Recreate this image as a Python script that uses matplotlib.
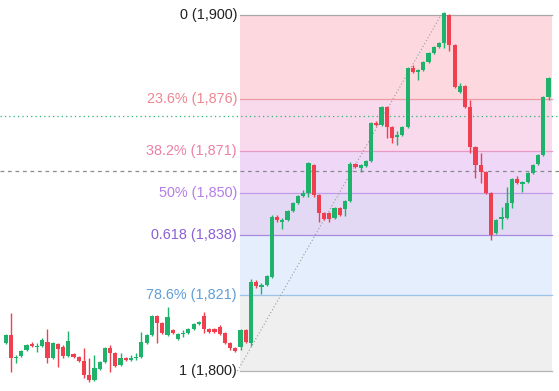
import matplotlib
matplotlib.use("Agg")
import matplotlib.pyplot as plt
import numpy as np

# ---------------- data ----------------
opens = [1807.9, 1810.1, 1803.6, 1804.2, 1805.9, 1807.6, 1806.7, 1807.0, 1808.1, 1803.6,
         1807.6, 1806.7, 1804.2, 1804.8, 1803.9, 1802.8, 1798.9, 1797.5, 1800.6, 1802.5,
         1806.5, 1805.1, 1801.7, 1803.6, 1803.1, 1803.6, 1803.9, 1807.9, 1810.1, 1815.4,
         1813.5, 1810.1, 1811.5, 1809.0, 1810.4, 1810.7, 1811.8, 1813.2, 1815.4, 1811.8,
         1811.8, 1812.4, 1810.7, 1807.9, 1806.5, 1806.7, 1811.5, 1807.9, 1825.0, 1823.6,
         1824.2, 1826.4, 1843.3, 1841.9, 1842.4, 1844.9, 1847.2, 1849.2, 1850.0, 1857.9,
         1849.4, 1844.4, 1844.4, 1843.0, 1845.8, 1845.5, 1847.8, 1858.1, 1857.0, 1857.6,
         1859.0, 1869.7, 1869.1, 1874.2, 1868.5, 1865.7, 1866.3, 1868.5, 1885.1, 1884.0,
         1884.5, 1886.8, 1889.3, 1891.0, 1892.1, 1900.0, 1891.6, 1878.4, 1880.1, 1874.2,
         1862.9, 1857.9, 1855.9, 1850.0, 1838.8, 1842.7, 1843.0, 1847.2, 1853.9, 1852.5,
         1853.1, 1855.6, 1858.1, 1860.7, 1877.0]
highs = [1810.4, 1816.3, 1804.5, 1805.9, 1807.6, 1808.1, 1807.9, 1809.3, 1811.8, 1808.1,
         1807.9, 1807.3, 1811.2, 1805.1, 1804.2, 1806.5, 1803.6, 1804.5, 1802.8, 1806.7,
         1807.3, 1805.3, 1805.1, 1803.9, 1804.5, 1805.1, 1811.0, 1810.4, 1815.7, 1815.7,
         1813.8, 1818.0, 1811.8, 1810.7, 1811.5, 1812.1, 1813.5, 1814.0, 1816.6, 1812.1,
         1812.1, 1812.9, 1811.0, 1808.1, 1806.7, 1811.8, 1811.8, 1825.8, 1825.6, 1824.7,
         1827.0, 1843.8, 1843.8, 1843.0, 1845.2, 1847.5, 1849.4, 1850.8, 1858.7, 1858.1,
         1849.7, 1844.7, 1844.7, 1846.1, 1846.1, 1848.0, 1858.7, 1858.4, 1858.1, 1859.3,
         1869.9, 1870.2, 1874.4, 1874.4, 1868.8, 1867.4, 1868.8, 1885.4, 1886.0, 1884.8,
         1887.1, 1889.6, 1891.3, 1892.4, 1900.8, 1900.3, 1891.9, 1880.9, 1880.3, 1876.1,
         1863.2, 1861.2, 1856.2, 1850.3, 1842.7, 1846.1, 1851.7, 1854.2, 1854.8, 1853.4,
         1855.9, 1858.1, 1861.0, 1877.2, 1882.6]
lows = [1807.6, 1799.7, 1802.2, 1803.9, 1805.6, 1806.7, 1805.3, 1806.7, 1802.2, 1803.4,
        1801.1, 1803.6, 1803.9, 1803.6, 1802.5, 1798.0, 1796.9, 1797.2, 1800.3, 1802.2,
        1799.7, 1801.1, 1801.4, 1802.8, 1802.8, 1803.1, 1803.6, 1807.6, 1809.8, 1807.9,
        1810.4, 1809.8, 1810.4, 1808.7, 1809.5, 1810.4, 1811.5, 1812.9, 1810.7, 1810.7,
        1810.7, 1810.1, 1807.6, 1805.9, 1805.3, 1805.9, 1807.9, 1807.0, 1823.3, 1821.6,
        1823.9, 1826.1, 1841.9, 1839.9, 1842.1, 1844.7, 1846.9, 1848.9, 1848.9, 1848.9,
        1841.9, 1842.4, 1841.9, 1842.7, 1843.5, 1843.5, 1847.5, 1857.0, 1855.9, 1857.3,
        1858.7, 1868.8, 1868.8, 1865.4, 1864.0, 1863.5, 1866.0, 1868.3, 1883.7, 1881.7,
        1884.3, 1886.5, 1889.0, 1890.7, 1890.7, 1889.9, 1879.5, 1878.1, 1873.9, 1861.2,
        1854.2, 1852.8, 1849.7, 1836.8, 1838.5, 1839.9, 1842.7, 1845.8, 1852.5, 1850.3,
        1852.8, 1855.3, 1857.9, 1860.4, 1876.1]
closes = [1810.1, 1803.6, 1803.9, 1805.6, 1807.3, 1807.0, 1807.0, 1808.7, 1803.6, 1807.9,
          1806.2, 1804.2, 1808.4, 1803.9, 1802.8, 1798.9, 1797.5, 1800.8, 1802.5, 1806.5,
          1805.1, 1801.4, 1803.6, 1803.1, 1803.6, 1803.9, 1808.1, 1810.1, 1815.4, 1813.5,
          1810.7, 1815.2, 1810.7, 1810.4, 1810.7, 1811.8, 1813.2, 1813.8, 1811.8, 1811.0,
          1811.0, 1810.4, 1807.9, 1806.5, 1805.6, 1811.5, 1808.1, 1825.0, 1823.9, 1824.2,
          1826.7, 1843.3, 1842.4, 1842.4, 1844.9, 1847.2, 1849.2, 1850.0, 1858.4, 1849.4,
          1844.4, 1842.7, 1842.7, 1845.8, 1843.8, 1847.8, 1858.1, 1857.3, 1857.9, 1859.0,
          1869.7, 1869.1, 1874.2, 1868.5, 1865.4, 1866.3, 1868.5, 1885.1, 1884.0, 1884.5,
          1886.8, 1889.3, 1891.0, 1892.1, 1900.6, 1891.6, 1879.8, 1880.1, 1874.2, 1862.9,
          1857.9, 1855.9, 1850.0, 1838.2, 1842.4, 1843.3, 1847.2, 1853.9, 1852.8, 1853.1,
          1855.6, 1857.9, 1860.7, 1877.0, 1882.3]

fib_high = 1900
fib_low = 1800
fib_ratios = [0, 0.236, 0.382, 0.5, 0.618, 0.786, 1]
fib_labels = ["0 (1,900)", "23.6% (1,876)", "38.2% (1,871)", "50% (1,850)",
              "0.618 (1,838)", "78.6% (1,821)", "1 (1,800)"]
fib_start_idx = 44.9       # left edge of the retracement tool (candle index)
fib_end_idx = 104.7        # right edge
swing_low_idx = 44.4       # trend-line anchor at the 1 level
current_price = 1871.6     # dotted green price line
prev_close = 1856.2        # dashed gray line

# ---------------- style ----------------
label_colors = ["#222222", "#ef8691", "#ee80a8", "#b57ee6", "#8b5fd6", "#5f9fd8", "#222222"]
line_colors = ["#a8a8a8", "#ee9aa2", "#e79ac8", "#c39ae8", "#a98ae0", "#9cc3e8", "#b5b5b5"]
band_colors = ["#fdd9df", "#f9d9ec", "#eed7f7", "#e3d9f4", "#e4eefc", "#efefef"]
GREEN = "#1fb26b"
RED = "#f0404f"

W, H = 559, 391
fig = plt.figure(figsize=(W / 100, H / 100), dpi=100)
ax = fig.add_axes([0, 0, 1, 1])
ax.set_xlim(-1.09, 106.0)
ax.set_ylim(1794.38, 1904.21)
ax.axis("off")

prices = [fib_high - r * (fib_high - fib_low) for r in fib_ratios]

# bands
for i in range(len(prices) - 1):
    ax.fill_between([fib_start_idx, fib_end_idx], prices[i + 1], prices[i],
                    color=band_colors[i], lw=0, zorder=0)
# level lines + labels
for p, lab, lc, tc in zip(prices, fib_labels, line_colors, label_colors):
    ax.plot([fib_start_idx, fib_end_idx], [p, p], color=lc, lw=0.9, zorder=1)
    ax.annotate(lab, xy=(fib_start_idx, p), xytext=(-3, 0), textcoords="offset pixels",
                ha="right", va="center", color=tc, fontsize=10.4,
                family=["Liberation Sans", "DejaVu Sans"], zorder=5)

# horizontal price lines
ax.axhline(current_price, color="#2bb673", lw=0.9, ls=(0, (1, 2.5)), zorder=2)
ax.axhline(prev_close, color="#8a8a8a", lw=0.9, ls=(0, (3, 3)), zorder=2)

# trend line
x = np.arange(len(opens))
peak_idx = int(np.argmax(highs))
ax.plot([swing_low_idx, peak_idx - 0.6], [fib_low, fib_high], color="#9a9a9a",
        lw=0.8, ls=(0, (1, 2)), zorder=2)

# candles
o = np.array(opens); c = np.array(closes); h = np.array(highs); l = np.array(lows)
up = c >= o
cols = np.where(up, GREEN, RED)
ax.vlines(x, l, h, colors=cols, lw=1.0, zorder=3)
bottom = np.minimum(o, c)
height = np.maximum(np.abs(c - o), 0.35)
ax.bar(x, height, bottom=bottom, width=0.8, color=cols, lw=0, zorder=4)

fig.savefig("out.png", dpi=100)
